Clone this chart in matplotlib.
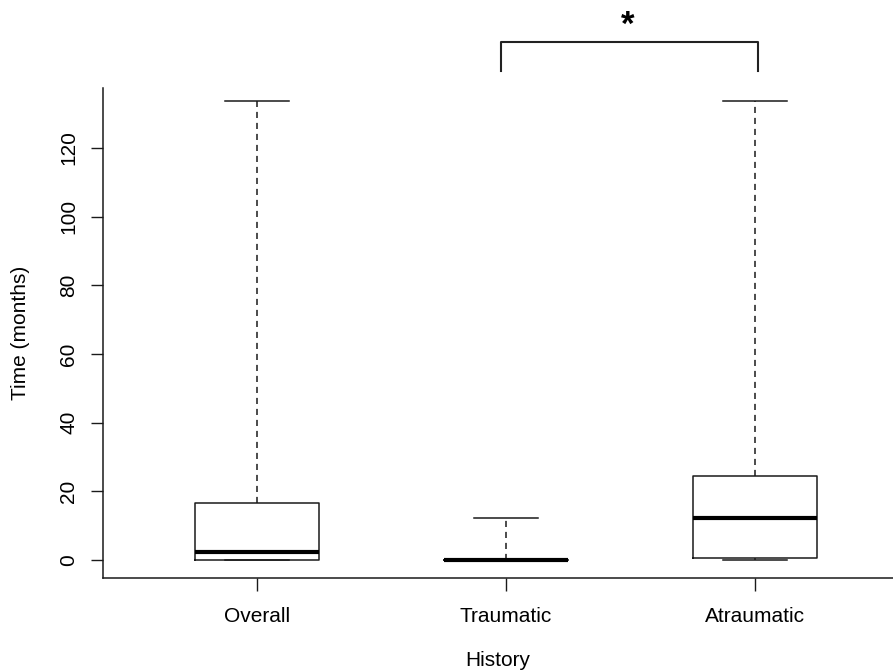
import matplotlib
matplotlib.use("Agg")
import matplotlib.pyplot as plt

# values (months)
groups = ["Overall", "Traumatic", "Atraumatic"]
whisker_low = [0.0, 0.0, 0.0]
q1 = [0.0, 0.0, 0.5]
medians = [2.2, 0.0, 12.2]
q3 = [16.6, 0.0, 24.4]
whisker_high = [133.8, 12.2, 133.8]
yticks = [0, 20, 40, 60, 80, 100, 120]

# significance bracket between Traumatic and Atraumatic
sig_pair = (2, 3)
sig_low, sig_high = 142.3, 151.0
sig_label = "*"

plt.rcParams["font.family"] = ["Liberation Sans", "DejaVu Sans"]

fig = plt.figure(figsize=(8.93, 6.71), dpi=100)
ax = fig.add_axes([0.1157, 0.139, 0.8843, 0.7299])

stats = []
for name, lo, a, m, b, hi in zip(groups, whisker_low, q1, medians, q3, whisker_high):
    stats.append({"label": name, "whislo": lo, "q1": a, "med": m,
                  "q3": b, "whishi": hi, "fliers": []})

line_col = "#1a1a1a"
ax.bxp(
    stats,
    positions=[1, 2, 3],
    widths=0.5,
    capwidths=0.255,
    showfliers=False,
    boxprops=dict(color=line_col, linewidth=1.1),
    whiskerprops=dict(color=line_col, linewidth=1.1, dashes=(4.0, 3.2)),
    capprops=dict(color=line_col, linewidth=1.1),
    medianprops=dict(color="black", linewidth=3.0, solid_capstyle="butt"),
)

ax.set_xlim(0.383, 3.554)
ax.set_ylim(-5.16, 137.5)

ax.spines["top"].set_visible(False)
ax.spines["right"].set_visible(False)
for s in ("left", "bottom"):
    ax.spines[s].set_color(line_col)
    ax.spines[s].set_linewidth(1.1)

fs = 15
ax.set_yticks(yticks)
ax.set_yticklabels([str(t) for t in yticks], rotation=90, va="center")
ax.set_xticks([1, 2, 3])
ax.set_xticklabels(groups)
ax.tick_params(axis="both", direction="out", length=9, width=1.0,
               colors=line_col, labelsize=fs, labelcolor="black")
ax.tick_params(axis="x", pad=12)
ax.tick_params(axis="y", pad=9)

ax.set_xlabel("History", fontsize=fs, labelpad=18)
ax.set_ylabel("Time (months)", fontsize=fs, labelpad=21)

x1, x2 = sig_pair
ax.plot([x1 - 0.02, x1 - 0.02, x2 + 0.01, x2 + 0.01],
        [sig_low, sig_high, sig_high, sig_low],
        color="#222222", linewidth=1.5, clip_on=False)
ax.text((x1 + x2) / 2 - 0.01, 155.6, sig_label, ha="center", va="center",
        fontsize=25, fontweight="bold", clip_on=False)

fig.savefig("out.png", dpi=100)
